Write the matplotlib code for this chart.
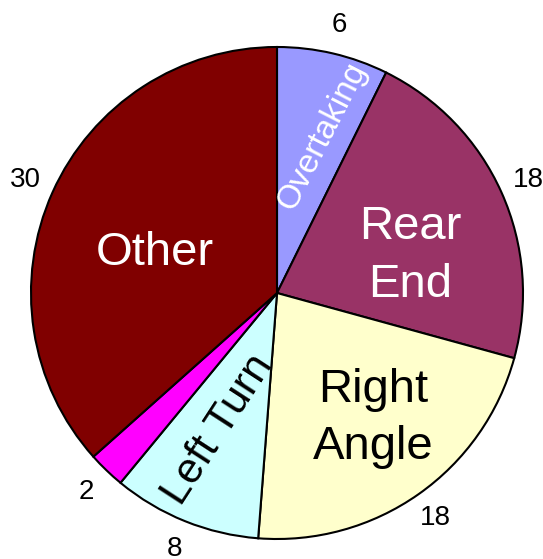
import matplotlib.pyplot as plt

plt.rcParams['font.family'] = ['Liberation Sans', 'DejaVu Sans']

categories = ['Overtaking', 'Rear End', 'Right Angle', 'Left Turn', 'Unknown', 'Other']
counts = [6, 18, 18, 8, 2, 30]
colors = ['#9999FF', '#993366', '#FFFFCC', '#CCFFFF', '#FF00FF', '#800000']

fig = plt.figure(figsize=(5.43, 5.59), dpi=100)
ax = fig.add_axes([0, 0, 1, 1])

wedges, texts = ax.pie(counts, labels=[str(c) for c in counts], colors=colors,
                       startangle=90, counterclock=False, labeldistance=1.12,
                       wedgeprops=dict(edgecolor='black', linewidth=1.5),
                       textprops=dict(fontsize=20, color='black'))
for t in texts:
    t.set_ha('center')
    t.set_va('center')

# category names inside the slices
ax.text(0.183, 0.638, 'Overtaking', color='white', fontsize=24, rotation=63,
        ha='center', va='center')
ax.text(0.54, 0.15, 'Rear\nEnd', color='white', fontsize=34,
        ha='center', va='center', linespacing=1.4)
ax.text(0.39, -0.51, 'Right\nAngle', color='black', fontsize=34,
        ha='center', va='center', linespacing=1.4)
ax.text(-0.24, -0.557, 'Left Turn', color='black', fontsize=31, rotation=57,
        ha='center', va='center')
ax.text(-0.496, 0.163, 'Other', color='white', fontsize=34,
        ha='center', va='center')

ax.set_xlim(-277 / 246, (543 - 277) / 246)
ax.set_ylim(-(559 - 293) / 246, 293 / 246)
ax.set_aspect('auto')
ax.axis('off')

plt.savefig('out.png', dpi=100)
